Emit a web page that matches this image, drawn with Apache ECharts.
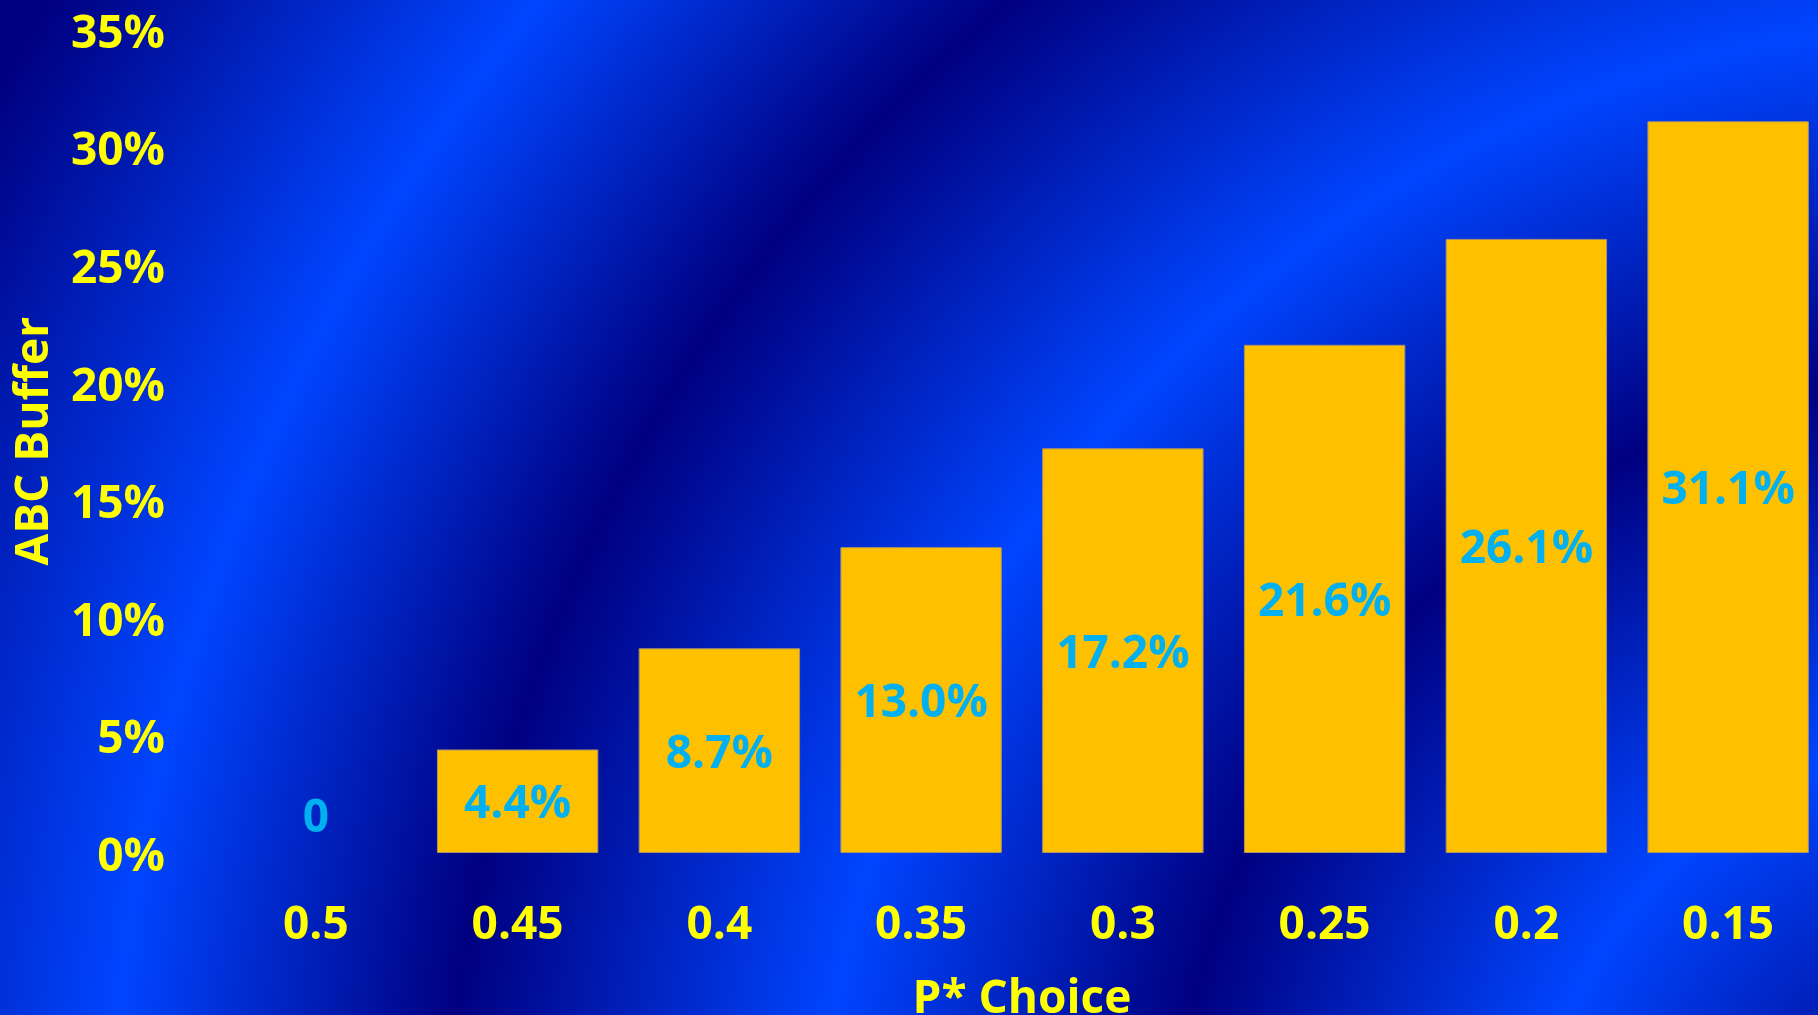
<!DOCTYPE html>
<html>
<head>
<meta charset="utf-8">
<script src="https://cdn.jsdelivr.net/npm/echarts@6/dist/echarts.min.js"></script>
<style>
  html, body { margin: 0; padding: 0; width: 1818px; height: 1015px; overflow: hidden; background: #000080; }
  #chart { width: 1818px; height: 1015px; }
</style>
</head>
<body>
<div id="chart"></div>
<script>
// ---- data ----
const categories = ['0.5', '0.45', '0.4', '0.35', '0.3', '0.25', '0.2', '0.15'];
const bufferValues = [0, 4.4, 8.7, 13.0, 17.2, 21.6, 26.1, 31.1];
const yAxisName = 'ABC Buffer';
const xAxisName = 'P* Choice';

// ---- style ----
const FONT = '"Open Sans", "Noto Sans", sans-serif';
const YELLOW = '#FFFF00';
const LABEL_BLUE = '#00B0F0';
const BAR = '#FFC000';
const DARK = '#000080';
const BRIGHT = '#0045FF';

// radial banded background (center lower-right, beyond canvas)
const W = 1818, H = 1015;
const cx = 2000, cy = 1200, R = 2400;
const bandRadii = [0, 100, 470, 830, 1180, 1555, 1890, 2290, 2400];
const bandColors = [DARK, DARK, BRIGHT, DARK, BRIGHT, DARK, BRIGHT, DARK, DARK];
const stops = bandRadii.map((r, i) => ({ offset: r / R, color: bandColors[i] }));

const chart = echarts.init(document.getElementById('chart'), null, { renderer: 'canvas' });

const seriesData = bufferValues.map(v => {
  if (v === 0) {
    return { value: v, itemStyle: { borderWidth: 0 }, label: { position: 'top', distance: 15 } };
  }
  return v;
});

chart.setOption({
  animation: false,
  backgroundColor: {
    type: 'radial',
    x: cx / W,
    y: cy / H,
    r: R / Math.min(W, H),
    colorStops: stops
  },
  grid: {
    left: 215,
    top: 29.5,
    width: 1614,
    height: 823.5,
    containLabel: false,
    outerBoundsMode: 'none'
  },
  xAxis: {
    type: 'category',
    data: categories,
    name: xAxisName,
    nameLocation: 'middle',
    nameGap: 124,
    nameTextStyle: { color: YELLOW, fontFamily: FONT, fontWeight: 'bold', fontSize: 46 },
    axisLine: { show: false },
    axisTick: { show: false },
    axisLabel: { color: YELLOW, fontFamily: FONT, fontWeight: 'bold', fontSize: 46, margin: 50 },
    splitLine: { show: false }
  },
  yAxis: {
    type: 'value',
    min: 0,
    max: 35,
    interval: 5,
    name: yAxisName,
    nameLocation: 'middle',
    nameGap: 157,
    nameTextStyle: { color: YELLOW, fontFamily: FONT, fontWeight: 'bold', fontSize: 46 },
    axisLine: { show: false },
    axisTick: { show: false },
    splitLine: { show: false },
    axisLabel: {
      color: YELLOW, fontFamily: FONT, fontWeight: 'bold', fontSize: 46, margin: 50,
      verticalAlign: 'top',
      lineHeight: 10,
      formatter: v => v + '%'
    }
  },
  series: [{
    type: 'bar',
    data: seriesData,
    barCategoryGap: '20%',
    itemStyle: { color: BAR, borderColor: '#A8926A', borderWidth: 1 },
    label: {
      show: true,
      position: 'inside',
      offset: [0, 4],
      color: LABEL_BLUE,
      fontFamily: FONT,
      fontWeight: 'bold',
      fontSize: 46,
      formatter: p => (p.value === 0 ? '0' : Number(p.value).toFixed(1) + '%')
    }
  }]
});
</script>
</body>
</html>
